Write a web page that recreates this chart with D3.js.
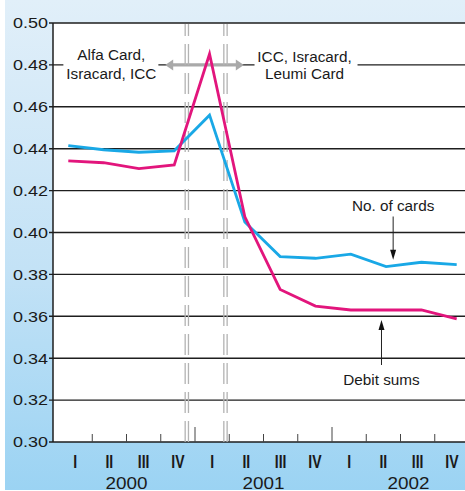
<!DOCTYPE html>
<html>
<head>
<meta charset="utf-8">
<script src="https://cdn.jsdelivr.net/npm/d3@7"></script>
<style>
  html, body { margin: 0; padding: 0; background: #fff; }
  svg { display: block; }
  text { font-family: "Liberation Sans", Arial, Helvetica, sans-serif; fill: #1a1a1a; }
</style>
</head>
<body>
<svg id="chart" width="465" height="491"></svg>
<script>
// ---- data ----
const quarters = ["I","II","III","IV","I","II","III","IV","I","II","III","IV"];
const years = ["2000","2001","2002"];
const yTicks = [0.30,0.32,0.34,0.36,0.38,0.40,0.42,0.44,0.46,0.48,0.50];
const cards  = [0.4415,0.4395,0.4383,0.4390,0.4560,0.4050,0.3885,0.3877,0.3897,0.3837,0.3858,0.3847];
const debits = [0.4342,0.4333,0.4305,0.4323,0.4852,0.4075,0.3728,0.3649,0.3630,0.3630,0.3630,0.3588];
const leftNote  = ["Alfa Card,", "Isracard, ICC"];
const rightNote = ["ICC, Isracard,", "Leumi Card"];
const cardsLabel = "No. of cards";
const debitLabel = "Debit sums";

// ---- layout ----
const W = 465, H = 491;
const plot = {left: 53, top: 23, right: 465, bottom: 442};
const svg = d3.select("#chart");

const y = d3.scaleLinear().domain([0.30, 0.50]).range([plot.bottom, plot.top]);
const xPt = d3.scalePoint().domain(d3.range(quarters.length)).range([68.3, 456.7]);
const xBand = d3.scaleBand().domain(d3.range(quarters.length)).range([58, 469]);
const step = xPt.step();

// background gradient
const defs = svg.append("defs");
const grad = defs.append("linearGradient").attr("id","bg").attr("x1",0).attr("y1",0).attr("x2",0).attr("y2",1);
grad.append("stop").attr("offset","0%").attr("stop-color","#e1eff9");
grad.append("stop").attr("offset","55%").attr("stop-color","#c3e2f6");
grad.append("stop").attr("offset","100%").attr("stop-color","#9bd3f3");
svg.append("rect").attr("x",5).attr("y",0).attr("width",W-5).attr("height",490).attr("fill","url(#bg)");
svg.append("rect").attr("x",plot.left).attr("y",plot.top)
  .attr("width",plot.right-plot.left).attr("height",plot.bottom-plot.top).attr("fill","#fff");

// gridlines
svg.append("g").selectAll("line").data(yTicks).join("line")
  .attr("x1", plot.left - 4).attr("x2", plot.right)
  .attr("y1", d => y(d)).attr("y2", d => y(d))
  .attr("stroke", "#1e1e1e").attr("stroke-width", 1.4);

// left axis line
svg.append("line").attr("x1",plot.left).attr("x2",plot.left)
  .attr("y1",plot.top).attr("y2",plot.bottom).attr("stroke","#1e1e1e").attr("stroke-width",1.5);

// y labels
svg.append("g").selectAll("text").data(yTicks).join("text")
  .attr("x", 48).attr("y", d => y(d) + 5.3)
  .attr("text-anchor","end")
  .attr("font-size", 15)
  .attr("textLength", 35).attr("lengthAdjust","spacingAndGlyphs")
  .text(d => d.toFixed(2));

// bottom ticks (inside the plot)
const edges = d3.range(1, quarters.length).map(i => xBand(i));
svg.append("g").selectAll("line").data(edges).join("line")
  .attr("x1", d => d).attr("x2", d => d)
  .attr("y1", plot.bottom)
  .attr("y2", (d,i) => ((i+1) % 4 === 0) ? plot.bottom - 15 : plot.bottom - 8)
  .attr("stroke","#444").attr("stroke-width",1);

// quarter labels
svg.append("g").selectAll("text").data(quarters).join("text")
  .attr("transform", (d,i) => `translate(${xBand(i) + xBand.bandwidth()/2},468) scale(0.78,1)`)
  .attr("text-anchor","middle").attr("font-size",18).attr("font-weight","bold")
  .text(d => d);

// year labels
svg.append("g").selectAll("text").data(years).join("text")
  .attr("x", (d,i) => (xBand(i*4) + xBand(i*4+3) + xBand.bandwidth())/2 + (i===2 ? 8 : 0))
  .attr("y", 489)
  .attr("text-anchor","middle").attr("font-size",16)
  .attr("textLength", 42).attr("lengthAdjust","spacingAndGlyphs")
  .text(d => d);

// annotation backgrounds (break 0.48 gridline)
const yNote = y(0.48);
const leftCx = xPt(1) + 0.22*step;
const rightCx = xPt(6) + 0.69*step;
svg.append("rect").attr("x", leftCx - 48).attr("y", yNote - 18).attr("width", 95).attr("height", 36).attr("fill","#fff");
svg.append("rect").attr("x", rightCx - 50).attr("y", yNote - 18).attr("width", 103).attr("height", 36).attr("fill","#fff");

svg.append("g").selectAll("text").data(leftNote).join("text")
  .attr("x", leftCx).attr("y", (d,i) => yNote - 4.5 + i*19)
  .attr("text-anchor","middle").attr("font-size",15.3).text(d => d);
svg.append("g").selectAll("text").data(rightNote).join("text")
  .attr("x", rightCx).attr("y", (d,i) => yNote - 2.5 + i*17)
  .attr("text-anchor","middle").attr("font-size",15.3).text(d => d);

// double arrow (gray)
const d1 = xPt(3) + 0.31*step, d2 = xPt(4) + 0.405*step;
const aL = d1 - 20, aR = d2 + 20;
svg.append("line").attr("x1", aL + 6).attr("x2", aR - 6).attr("y1", yNote).attr("y2", yNote)
  .attr("stroke","#a9a9a9").attr("stroke-width",3.2);
svg.append("path").attr("d", `M${aL},${yNote} L${aL+8},${yNote-5.5} L${aL+8},${yNote+5.5} Z`).attr("fill","#a9a9a9");
svg.append("path").attr("d", `M${aR},${yNote} L${aR-8},${yNote-5.5} L${aR-8},${yNote+5.5} Z`).attr("fill","#a9a9a9");

// dashed double vertical lines
const dashX = [d1, d1 + 3.3, d2, d2 + 3.3];
svg.append("g").selectAll("line").data(dashX).join("line")
  .attr("x1", d => d).attr("x2", d => d)
  .attr("y1", plot.bottom).attr("y2", plot.top + 1)
  .attr("stroke","#b3b3b3").attr("stroke-width",1.3)
  .attr("stroke-dasharray","21,8");

// series lines
const line = d3.line().x((d,i) => xPt(i)).y(d => y(d));
svg.append("path").datum(cards).attr("d", line).attr("fill","none")
  .attr("stroke","#19a8e6").attr("stroke-width",2.8).attr("stroke-linejoin","miter");
svg.append("path").datum(debits).attr("d", line).attr("fill","none")
  .attr("stroke","#e2157c").attr("stroke-width",2.8).attr("stroke-linejoin","miter");

// series annotations with arrows
function arrow(x, yFrom, yTo) {
  const dir = yTo > yFrom ? 1 : -1;
  svg.append("line").attr("x1", x).attr("x2", x).attr("y1", yFrom).attr("y2", yTo - dir*9)
    .attr("stroke","#222").attr("stroke-width",1);
  svg.append("path").attr("d", `M${x},${yTo} L${x-3},${yTo - dir*10} L${x+3},${yTo - dir*10} Z`).attr("fill","#111");
}
const cx = xPt(9) + 0.2*step;
svg.append("text").attr("x", cx).attr("y", 210.5).attr("text-anchor","middle").attr("font-size",15.3).text(cardsLabel);
arrow(cx, 216.5, y(cards[9]) - 7);

const dx = xPt(8) + 0.87*step;
svg.append("text").attr("x", dx).attr("y", 385).attr("text-anchor","middle").attr("font-size",15.3).text(debitLabel);
arrow(dx, 365, y(debits[9]) + 10);
</script>
</body>
</html>
